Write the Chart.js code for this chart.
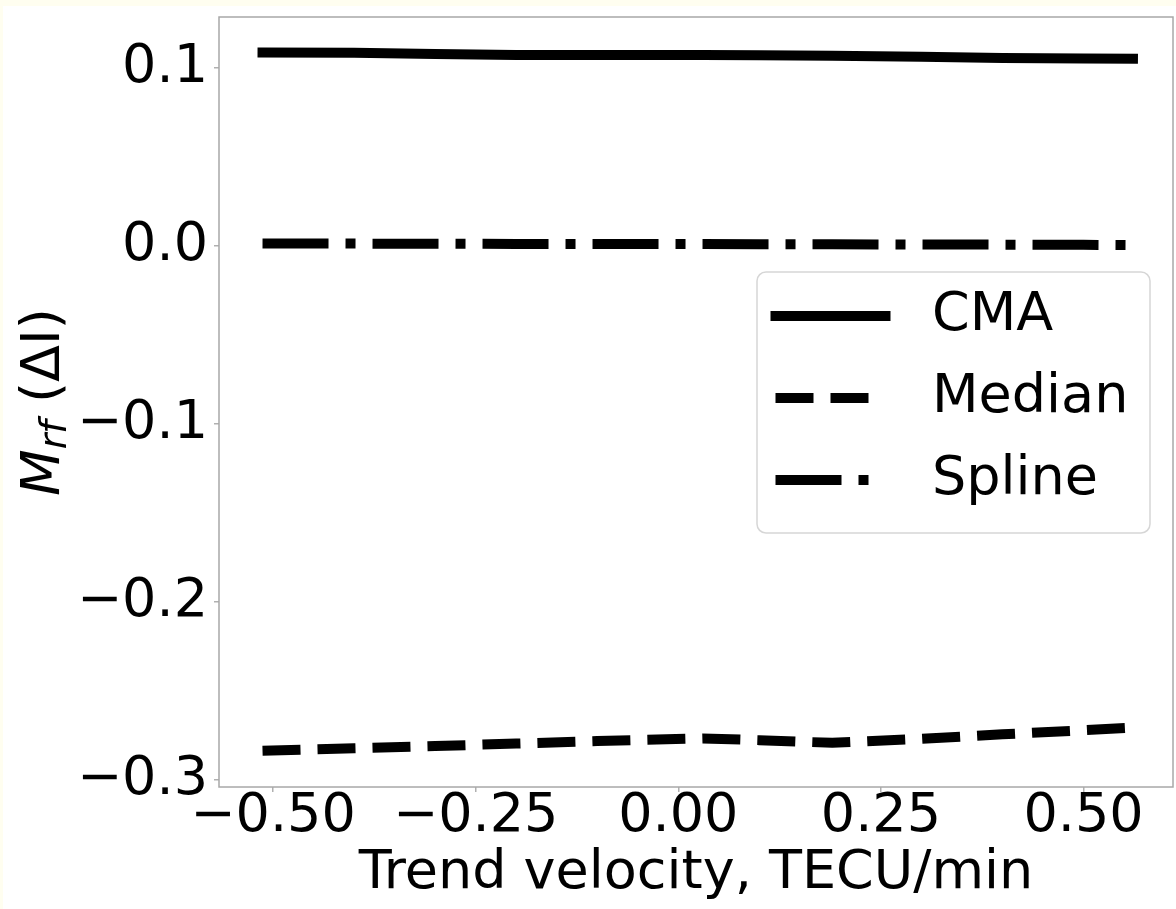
<!DOCTYPE html>
<html>
<head>
<meta charset="utf-8">
<title>M_rf vs trend velocity</title>
<script src="https://cdn.jsdelivr.net/npm/chart.js@4.4.1/dist/chart.umd.min.js"></script>
<style>
  html, body { margin: 0; padding: 0; background: #fffef0; }
  #wrap { width: 1176px; height: 909px; }
</style>
</head>
<body>
<div id="wrap"><canvas id="mrfChart" width="1176" height="909"></canvas></div>
<script>
/* ===== data ===== */
// trend velocity, TECU/min
const velocity = [-0.513, -0.4, -0.3, -0.2, -0.1, 0.03, 0.1, 0.19, 0.3, 0.4, 0.5, 0.561];
const cmaValues = [0.1085, 0.1084, 0.1077, 0.1071, 0.1071, 0.1071, 0.1070, 0.1067, 0.1061, 0.1055, 0.1052, 0.1050];
const medianValues = [-0.2837, -0.2823, -0.2811, -0.2797, -0.2783, -0.2768, -0.2778, -0.2793, -0.2770, -0.2745, -0.2722, -0.2707];
const splineValues = [0.0013, 0.0012, 0.0011, 0.0010, 0.0010, 0.0009, 0.0008, 0.0008, 0.0007, 0.0006, 0.0005, 0.0004];

const seriesNames = ['CMA', 'Median', 'Spline'];

const xTickValues = [-0.5, -0.25, 0, 0.25, 0.5];
const xTickLabels = ['\u22120.50', '\u22120.25', '0.00', '0.25', '0.50'];
const yTickValues = [-0.3, -0.2, -0.1, 0, 0.1];
const yTickLabels = ['\u22120.3', '\u22120.2', '\u22120.1', '0.0', '0.1'];

const FONT = '"DejaVu Sans", sans-serif';

/* ===== helpers ===== */
function toPoints(ys) {
  return velocity.map((x, i) => ({ x: x, y: ys[i] }));
}

// cream page with white figure panel
const panelBg = {
  id: 'panelBg',
  beforeDraw(chart) {
    const ctx = chart.ctx;
    ctx.save();
    ctx.fillStyle = '#fffef0';
    ctx.fillRect(0, 0, chart.width, chart.height);
    ctx.fillStyle = '#ffffff';
    ctx.fillRect(3, 6, chart.width - 3, chart.height - 6);
    ctx.restore();
  }
};

// axes frame, y label with subscript, legend box
const decorations = {
  id: 'decorations',
  afterDraw(chart) {
    const ctx = chart.ctx;
    const a = chart.chartArea;

    ctx.save();
    ctx.strokeStyle = '#a8a8a8';
    ctx.lineWidth = 1.5;
    ctx.strokeRect(a.left, a.top, a.right - a.left, a.bottom - a.top);
    ctx.restore();

    // y label: M_rf (ΔI)
    ctx.save();
    ctx.translate(0, (a.top + a.bottom) / 2);
    ctx.rotate(-Math.PI / 2);
    ctx.fillStyle = '#000';
    ctx.textBaseline = 'alphabetic';
    const fM = 'italic 54px ' + FONT, fSub = 'italic 38px ' + FONT, fN = '54px ' + FONT;
    ctx.font = fM; const wM = ctx.measureText('M').width;
    ctx.font = fSub; const wS = ctx.measureText('rf').width;
    ctx.font = fN; const wN = ctx.measureText(' (\u0394I)').width;
    let x = -(wM + wS + wN) / 2;
    const base = 59;
    ctx.font = fM; ctx.fillText('M', x, base); x += wM;
    ctx.font = fSub; ctx.fillText('rf', x, base + 7); x += wS;
    ctx.font = fN; ctx.fillText(' (\u0394I)', x, base);
    ctx.restore();

    // legend
    const box = { x: 757, y: 272, w: 393, h: 261, r: 9 };
    ctx.save();
    ctx.beginPath();
    ctx.roundRect(box.x, box.y, box.w, box.h, box.r);
    ctx.fillStyle = 'rgba(255,255,255,0.8)';
    ctx.fill();
    ctx.strokeStyle = '#d6d6d6';
    ctx.lineWidth = 1.5;
    ctx.stroke();
    const rows = [316, 398, 480];
    chart.data.datasets.forEach((ds, i) => {
      ctx.beginPath();
      ctx.setLineDash(ds.borderDash || []);
      ctx.lineCap = ds.borderCapStyle || 'butt';
      ctx.lineWidth = ds.borderWidth;
      ctx.strokeStyle = ds.borderColor;
      ctx.moveTo(775.5, rows[i]);
      ctx.lineTo(885.5, rows[i]);
      ctx.stroke();
      ctx.setLineDash([]);
      ctx.fillStyle = '#000';
      ctx.font = '54px ' + FONT;
      ctx.textBaseline = 'middle';
      ctx.textAlign = 'left';
      ctx.fillText(ds.label, 932, rows[i]);
    });
    ctx.restore();
  }
};

// keep the plot box fixed: no extra room for overhanging tick labels
function fixX(s) {
  s.height = 122;
  s.paddingLeft = 0; s.paddingRight = 0; s.paddingTop = 0; s.paddingBottom = 0;
}
function fixY(s) {
  s.width = 219;
  s.paddingLeft = 0; s.paddingRight = 0; s.paddingTop = 0; s.paddingBottom = 0;
}

/* ===== chart ===== */
Chart.defaults.font.family = FONT;
Chart.defaults.color = '#000';

const ctx = document.getElementById('mrfChart').getContext('2d');
window.mrfChart = new Chart(ctx, {
  type: 'line',
  data: {
    datasets: [
      {
        label: seriesNames[0],
        data: toPoints(cmaValues),
        borderColor: '#000',
        borderWidth: 10,
        borderCapStyle: 'square',
        borderJoinStyle: 'round',
        pointRadius: 0,
        tension: 0
      },
      {
        label: seriesNames[1],
        data: toPoints(medianValues),
        borderColor: '#000',
        borderWidth: 10,
        borderDash: [38, 17],
        borderCapStyle: 'butt',
        borderJoinStyle: 'round',
        pointRadius: 0,
        tension: 0
      },
      {
        label: seriesNames[2],
        data: toPoints(splineValues),
        borderColor: '#000',
        borderWidth: 10,
        borderDash: [66, 17, 10, 17],
        borderCapStyle: 'butt',
        borderJoinStyle: 'round',
        pointRadius: 0,
        tension: 0
      }
    ]
  },
  options: {
    responsive: false,
    animation: false,
    devicePixelRatio: 1,
    layout: { padding: { top: 17, right: 3, left: 0, bottom: 0 } },
    plugins: { legend: { display: false }, tooltip: { enabled: false } },
    scales: {
      x: {
        type: 'linear',
        min: -0.5667,
        max: 0.6104,
        afterBuildTicks: s => { s.ticks = xTickValues.map(v => ({ value: v })); },
        afterFit: fixX,
        border: { display: false },
        grid: { drawOnChartArea: false, drawTicks: true, tickLength: 5, color: '#b0b0b0', lineWidth: 1.5 },
        ticks: {
          autoSkip: false,
          maxRotation: 0,
          padding: -2,
          font: { size: 54, lineHeight: 1 },
          callback: (v, i) => xTickLabels[i]
        },
        title: {
          display: true,
          text: 'Trend velocity, TECU/min',
          font: { size: 54, lineHeight: 1 },
          padding: { top: 0, bottom: 8 }
        }
      },
      y: {
        type: 'linear',
        min: -0.3041,
        max: 0.1285,
        afterBuildTicks: s => { s.ticks = yTickValues.map(v => ({ value: v })); },
        afterFit: fixY,
        border: { display: false },
        grid: { drawOnChartArea: false, drawTicks: true, tickLength: 5, color: '#b0b0b0', lineWidth: 1.5 },
        ticks: {
          autoSkip: false,
          padding: 6,
          font: { size: 54, lineHeight: 1 },
          callback: (v, i) => yTickLabels[i]
        },
        title: { display: false }
      }
    }
  },
  plugins: [panelBg, decorations]
});
</script>
</body>
</html>
